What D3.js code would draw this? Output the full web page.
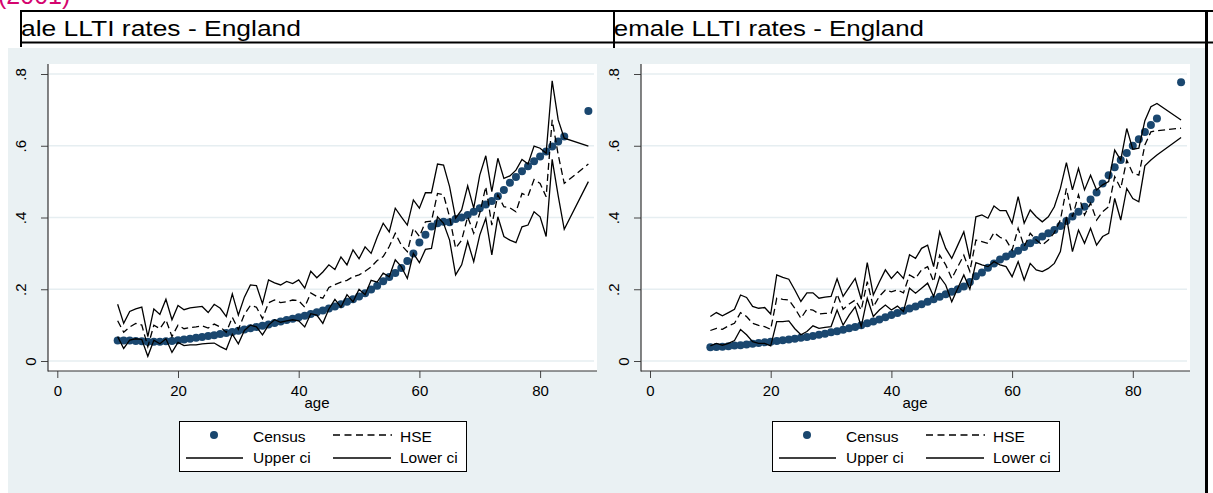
<!DOCTYPE html>
<html>
<head>
<meta charset="utf-8">
<script src="https://cdn.jsdelivr.net/npm/d3@7"></script>
<style>
html, body { margin: 0; padding: 0; background: #ffffff; }
svg { display: block; font-family: "Liberation Sans", Arial, Helvetica, sans-serif; }
</style>
</head>
<body>
<svg id="chart" width="1213" height="493"></svg>
<script>
// Single-year ages 10-84, with the 85+ group plotted at 88
const ages = [10,11,12,13,14,15,16,17,18,19,
              20,21,22,23,24,25,26,27,28,29,
              30,31,32,33,34,35,36,37,38,39,
              40,41,42,43,44,45,46,47,48,49,
              50,51,52,53,54,55,56,57,58,59,
              60,61,62,63,64,65,66,67,68,69,
              70,71,72,73,74,75,76,77,78,79,
              80,81,82,83,84,88];

// Male limiting long-term illness rates
const maleCensus = [.057,.057,.057,.056,.055,.054,.054,.054,.055,.056,
                    .058,.060,.062,.065,.067,.070,.072,.075,.078,.081,
                    .084,.088,.091,.095,.098,.102,.106,.110,.114,.118,
                    .122,.126,.131,.136,.141,.146,.152,.158,.165,.172,
                    .180,.189,.199,.210,.222,.234,.245,.259,.279,.300,
                    .330,.352,.375,.384,.388,.387,.396,.400,.407,.416,
                    .426,.436,.446,.459,.477,.497,.513,.529,.543,.557,
                    .570,.584,.598,.612,.626,.697];
const maleHSE = [.112,.080,.095,.105,.100,.040,.100,.090,.115,.068,
                 .100,.090,.093,.095,.098,.092,.103,.095,.080,.122,
                 .088,.130,.155,.150,.118,.162,.170,.163,.165,.170,
                 .168,.150,.190,.180,.175,.205,.213,.220,.225,.235,
                 .240,.250,.262,.280,.291,.319,.356,.323,.305,.370,
                 .347,.388,.390,.467,.463,.402,.314,.337,.402,.356,
                 .412,.486,.379,.463,.430,.427,.416,.467,.460,.506,
                 .495,.458,.672,.575,.495,.549];
const maleUpper = [.158,.105,.138,.145,.150,.068,.145,.130,.172,.115,
                   .155,.143,.148,.150,.152,.135,.158,.147,.124,.187,
                   .128,.178,.212,.210,.160,.226,.218,.212,.222,.216,
                   .226,.203,.250,.232,.248,.268,.255,.290,.268,.310,
                   .285,.318,.300,.345,.384,.360,.426,.402,.379,.449,
                   .426,.469,.469,.549,.546,.486,.398,.421,.488,.426,
                   .518,.572,.472,.565,.509,.516,.532,.562,.549,.599,
                   .593,.579,.781,.672,.621,.599];
const maleLower = [.068,.035,.058,.062,.060,.013,.058,.048,.062,.024,
                   .052,.043,.045,.045,.048,.049,.050,.040,.032,.075,
                   .048,.085,.100,.095,.073,.100,.115,.108,.112,.115,
                   .112,.095,.132,.128,.105,.145,.172,.150,.185,.165,
                   .200,.185,.225,.220,.245,.235,.282,.263,.230,.300,
                   .274,.311,.314,.402,.384,.337,.240,.268,.333,.277,
                   .351,.398,.296,.402,.347,.337,.330,.374,.379,.416,
                   .402,.347,.562,.460,.367,.500];

// Female limiting long-term illness rates
const femaleCensus = [.038,.039,.040,.041,.043,.044,.046,.048,.050,.052,
                      .054,.056,.058,.060,.062,.065,.067,.070,.073,.076,
                      .080,.083,.087,.091,.095,.100,.105,.110,.116,.122,
                      .128,.134,.140,.146,.152,.158,.165,.172,.179,.186,
                      .193,.200,.208,.220,.236,.247,.260,.272,.283,.291,
                      .298,.307,.318,.328,.337,.347,.356,.365,.376,.390,
                      .403,.416,.430,.450,.470,.495,.518,.540,.560,.580,
                      .600,.618,.638,.658,.676,.777];
const femaleHSE = [.085,.091,.088,.098,.105,.135,.124,.105,.099,.096,
                   .088,.175,.172,.170,.147,.119,.144,.142,.131,.133,
                   .133,.186,.144,.159,.170,.142,.221,.151,.180,.198,
                   .193,.198,.190,.240,.230,.254,.263,.221,.295,.268,
                   .230,.263,.295,.250,.337,.333,.328,.358,.345,.337,
                   .309,.370,.319,.356,.337,.323,.337,.358,.393,.481,
                   .402,.463,.407,.440,.393,.416,.430,.514,.481,.560,
                   .523,.518,.602,.639,.642,.649];
const femaleUpper = [.124,.135,.126,.135,.144,.184,.177,.152,.147,.149,
                     .131,.240,.233,.228,.198,.166,.190,.190,.175,.178,
                     .180,.229,.180,.205,.230,.172,.274,.184,.220,.254,
                     .230,.249,.230,.296,.286,.314,.323,.263,.360,.314,
                     .286,.323,.360,.285,.402,.407,.398,.432,.419,.419,
                     .384,.458,.384,.421,.402,.388,.402,.430,.481,.553,
                     .477,.537,.477,.518,.477,.491,.500,.588,.560,.648,
                     .590,.593,.670,.709,.718,.672];
const femaleLower = [.042,.049,.044,.049,.057,.088,.073,.054,.049,.049,
                     .042,.110,.110,.112,.090,.073,.082,.098,.091,.094,
                     .096,.142,.100,.128,.151,.096,.175,.124,.142,.156,
                     .142,.153,.138,.203,.189,.203,.217,.180,.235,.212,
                     .165,.203,.240,.200,.274,.268,.263,.277,.268,.263,
                     .235,.277,.226,.272,.254,.249,.258,.272,.305,.402,
                     .305,.365,.328,.370,.323,.347,.356,.453,.393,.481,
                     .453,.444,.544,.560,.574,.623];

// Axis ticks and text
const xTicks = [0, 20, 40, 60, 80];
const yTicks = [0, 0.2, 0.4, 0.6, 0.8];
const yTickLabels = ["0", ".2", ".4", ".6", ".8"];
const xTitle = "age";
const legendLabels = ["Census", "HSE", "Upper ci", "Lower ci"];
const panelTitles = ["Male LLTI rates - England", "Female LLTI rates - England"];
const yearNote = "(2001)";

const NAVY = "#1a476f";
const BG = "#eaf1f3";
const GRID = "#e6eef1";

const svg = d3.select("#chart");

// Page-level backdrop shared by both graphs
svg.append("rect").attr("x", 8).attr("y", 48).attr("width", 1197).attr("height", 445).attr("fill", BG);

// Clipped year note at the very top
svg.append("text")
  .attr("x", -2).attr("y", 4)
  .attr("font-size", 25)
  .attr("fill", "#d4046e")
  .text(yearNote);

const defs = svg.append("defs");

function drawPanel(cfg) {
  const g = svg.append("g");

  // Title band with a clipped heading
  const clipId = "clip-title-" + cfg.key;
  defs.append("clipPath").attr("id", clipId)
    .append("rect").attr("x", cfg.titleClip[0]).attr("y", 12)
    .attr("width", cfg.titleClip[1] - cfg.titleClip[0]).attr("height", 30);
  g.append("text")
    .attr("clip-path", `url(#${clipId})`)
    .attr("x", cfg.titleStart).attr("y", 36)
    .attr("font-size", 21.5)
    .attr("textLength", cfg.titleLen)
    .attr("lengthAdjust", "spacingAndGlyphs")
    .attr("fill", "#000")
    .text(cfg.title);

  const px0 = cfg.plotLeft, px1 = cfg.plotRight, py0 = 64, py1 = 371;

  // Plot region
  g.append("rect").attr("x", px0).attr("y", py0).attr("width", px1 - px0).attr("height", py1 - py0).attr("fill", "#fff");

  const x = d3.scaleLinear().domain([0, 80]).range([cfg.xZero, cfg.xZero + 482.8]);
  const y = d3.scaleLinear().domain([0, 0.8]).range([361, 74]);

  // Horizontal grid
  g.append("g").selectAll("line").data(yTicks).join("line")
    .attr("x1", px0 + 1).attr("x2", px1 - 3)
    .attr("y1", d => y(d)).attr("y2", d => y(d))
    .attr("stroke", GRID).attr("stroke-width", 1.6);

  // Y axis with vertical labels
  const yAxis = g.append("g").attr("transform", `translate(${px0},0)`)
    .call(d3.axisLeft(y).tickValues(yTicks).tickSize(7).tickSizeOuter(0)
      .tickFormat((d, i) => yTickLabels[i]));
  yAxis.select(".domain").remove();
  yAxis.selectAll(".tick line").attr("stroke", "#444");
  yAxis.selectAll(".tick text")
    .attr("x", null).attr("dy", null)
    .attr("text-anchor", "middle")
    .attr("transform", (d, i) => `translate(${yTickLabels[i] === "0" ? -12 : -22},0) rotate(-90)`)
    .attr("font-size", 15).attr("fill", "#000")
    .attr("font-family", "Liberation Sans, Arial, sans-serif");

  // X axis
  const xAxis = g.append("g").attr("transform", `translate(0,${py1})`)
    .call(d3.axisBottom(x).tickValues(xTicks).tickSize(7).tickSizeOuter(0));
  xAxis.select(".domain").remove();
  xAxis.selectAll(".tick line").attr("stroke", "#444");
  xAxis.selectAll(".tick text")
    .attr("y", 25).attr("dy", null)
    .attr("font-size", 15).attr("fill", "#000")
    .attr("font-family", "Liberation Sans, Arial, sans-serif");

  // Axis lines
  g.append("line").attr("x1", px0).attr("x2", px0).attr("y1", py0).attr("y2", py1 + 0.5)
    .attr("stroke", "#333").attr("stroke-width", 1.2);
  g.append("line").attr("x1", px0).attr("x2", px1).attr("y1", py1).attr("y2", py1)
    .attr("stroke", "#333").attr("stroke-width", 1.2);

  g.append("text").attr("x", cfg.xTitleX).attr("y", 408)
    .attr("text-anchor", "middle").attr("font-size", 15).text(xTitle);

  // Census points
  const census = ages.map((a, i) => ({ a, v: cfg.census[i] }));
  g.append("g").selectAll("circle").data(census).join("circle")
    .attr("cx", d => x(d.a)).attr("cy", d => y(d.v)).attr("r", 4)
    .attr("fill", NAVY);

  // HSE estimate and its confidence band
  const line = d3.line().x(d => x(d.a)).y(d => y(d.v));
  const series = [
    { vals: cfg.hse, dash: "7,4" },
    { vals: cfg.upper, dash: null },
    { vals: cfg.lower, dash: null }
  ];
  series.forEach(s => {
    g.append("path")
      .datum(ages.map((a, i) => ({ a, v: s.vals[i] })))
      .attr("d", line)
      .attr("fill", "none")
      .attr("stroke", "#000")
      .attr("stroke-width", 1.3)
      .attr("stroke-linejoin", "miter")
      .attr("stroke-dasharray", s.dash);
  });

  // Legend
  const L = cfg.legendLeft, T = 421;
  const lg = g.append("g");
  lg.append("rect").attr("x", L + 0.5).attr("y", T + 0.5).attr("width", 287).attr("height", 50)
    .attr("fill", "#fff").attr("stroke", "#000").attr("stroke-width", 1);
  lg.append("circle").attr("cx", L + 35).attr("cy", T + 14).attr("r", 4).attr("fill", NAVY);
  lg.append("line").attr("x1", L + 154).attr("x2", L + 213).attr("y1", T + 14).attr("y2", T + 14)
    .attr("stroke", "#000").attr("stroke-width", 1.3).attr("stroke-dasharray", "7,4.5");
  lg.append("line").attr("x1", L + 7).attr("x2", L + 64).attr("y1", T + 37).attr("y2", T + 37)
    .attr("stroke", "#000").attr("stroke-width", 1.3);
  lg.append("line").attr("x1", L + 154).attr("x2", L + 212).attr("y1", T + 37).attr("y2", T + 37)
    .attr("stroke", "#000").attr("stroke-width", 1.3);
  const labelPos = [[L + 74, T + 21], [L + 221, T + 21], [L + 74, T + 42], [L + 221, T + 42]];
  lg.selectAll("text").data(legendLabels).join("text")
    .attr("x", (d, i) => labelPos[i][0]).attr("y", (d, i) => labelPos[i][1])
    .attr("font-size", 15.5).attr("fill", "#000").text(d => d);
}

drawPanel({
  key: "m", title: panelTitles[0],
  titleStart: -1, titleLen: 302, titleClip: [21, 613],
  plotLeft: 48, plotRight: 597, xZero: 57.3, xTitleX: 317, legendLeft: 179,
  census: maleCensus, hse: maleHSE, upper: maleUpper, lower: maleLower
});
drawPanel({
  key: "f", title: panelTitles[1],
  titleStart: 598, titleLen: 326, titleClip: [615, 1205],
  plotLeft: 641, plotRight: 1190, xZero: 650, xTitleX: 915, legendLeft: 772,
  census: femaleCensus, hse: femaleHSE, upper: femaleUpper, lower: femaleLower
});

// Title band frame lines
const frame = svg.append("g").attr("stroke", "#000").attr("fill", "none");
frame.append("line").attr("x1", 20).attr("x2", 1213).attr("y1", 11).attr("y2", 11).attr("stroke-width", 2);
frame.append("line").attr("x1", 20).attr("x2", 1213).attr("y1", 42.5).attr("y2", 42.5).attr("stroke-width", 2);
frame.append("line").attr("x1", 21).attr("x2", 21).attr("y1", 10).attr("y2", 47).attr("stroke-width", 2);
frame.append("line").attr("x1", 614).attr("x2", 614).attr("y1", 10).attr("y2", 48).attr("stroke-width", 2);
frame.append("line").attr("x1", 1206.5).attr("x2", 1206.5).attr("y1", 10).attr("y2", 493).attr("stroke-width", 3);
</script>
</body>
</html>
